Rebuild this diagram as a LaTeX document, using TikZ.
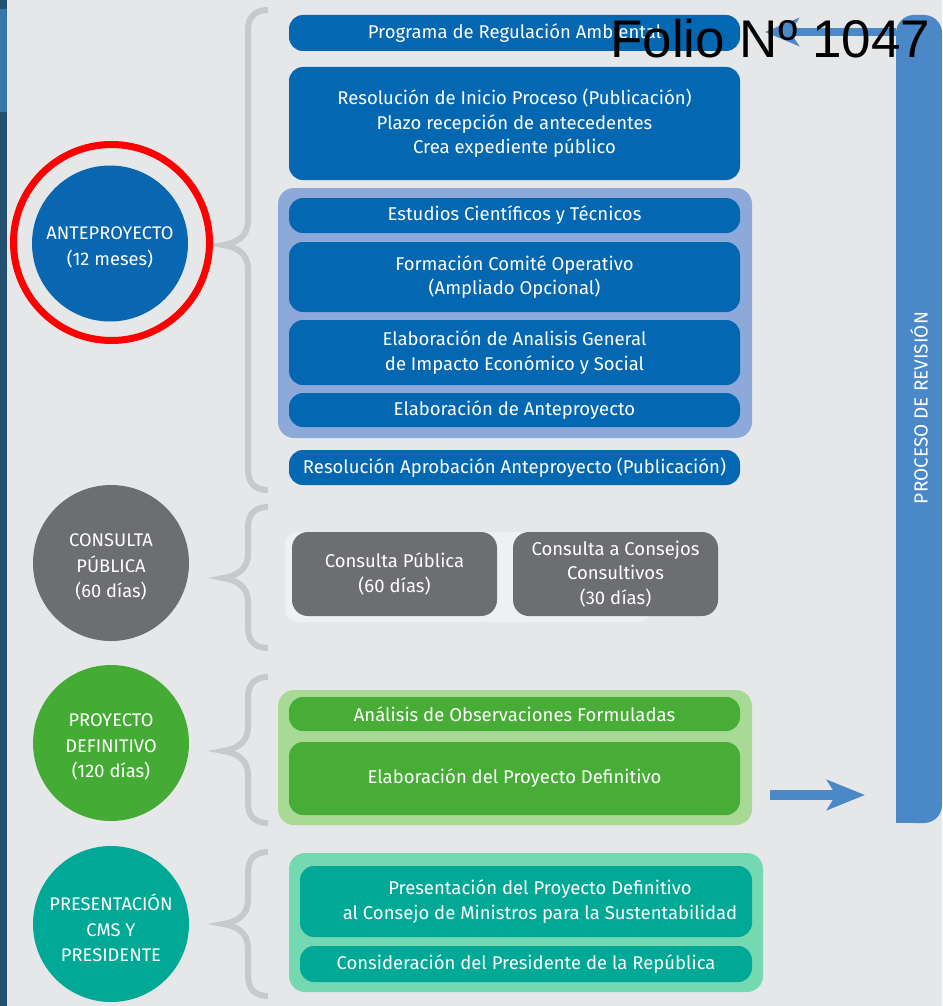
\documentclass[tikz,border=0pt]{standalone}
\usepackage{fontspec}
\setmainfont{Fira Sans}
\newfontfamily\arialf{Liberation Sans}
\usetikzlibrary{arrows.meta}
\definecolor{bgc}{HTML}{E6E7E9}
\definecolor{stripdark}{HTML}{244F6F}
\definecolor{striplight}{HTML}{3776A8}
\definecolor{barc}{HTML}{4A88C7}
\definecolor{bluebox}{HTML}{0467B2}
\definecolor{bluecirc}{HTML}{0967B1}
\definecolor{blueframe}{HTML}{8CA9D9}
\definecolor{grayc}{HTML}{6D6E72}
\definecolor{graypanel}{HTML}{EEF1F4}
\definecolor{greenbox}{HTML}{47AD36}
\definecolor{greencirc}{HTML}{44AC34}
\definecolor{greenframe}{HTML}{A8DA95}
\definecolor{tealc}{HTML}{00A996}
\definecolor{tealframe}{HTML}{74D8B3}
\definecolor{bracec}{HTML}{C8C9CB}
\begin{document}
\begin{tikzpicture}[x=1pt,y=-1pt,
  boxtxt/.style={text=white, align=center, inner sep=0pt,
    font=\fontsize{18.5}{24.5}\selectfont},
  stepbox/.style={boxtxt, rounded corners=14pt, minimum width=451pt},
  bbox/.style={stepbox, fill=bluebox},
  gbox/.style={stepbox, fill=greenbox},
  tbox/.style={stepbox, fill=tealc, minimum width=452pt},
  graybox/.style={boxtxt, fill=grayc, rounded corners=16pt, minimum width=205pt, minimum height=84pt},
  frame/.style={rounded corners=16pt, minimum width=474pt, inner sep=0pt},
  phase/.style={circle, minimum size=156pt, inner sep=0pt},
  phasetxt/.style={text=white, align=center, inner sep=0pt, yshift=-4pt,
    font=\fontsize{18.3}{25.5}\selectfont},
  brace/.style={draw=bracec, line width=6pt},
  arr/.style={draw=barc}
]
\useasboundingbox (0,0) rectangle (942,1006);
\fill[bgc] (0,0) rectangle (942,1006);
\fill[stripdark] (0,0) rectangle (7,1006);
\fill[striplight] (0,9) rectangle (7,112);

% revision bar
\node[fill=barc, rounded corners=18pt, minimum width=46pt, minimum height=808pt, inner sep=0pt] (bar) at (919,419) {};
\fill[barc] (bar.south west) rectangle ++(20,-20);
\node[rotate=90, text=white, font=\fontsize{19}{22}\selectfont] (rev) at (919,408) {PROCESO DE REVISIÓN};

% braces
\newcommand{\bracepath}[3]{%
  \draw[brace] (268,#1) .. controls (256,#1) and (248,#1+6) .. (248,#1+20)
    -- (248,#2-24) .. controls (248,#2-8) and (236,#2-2) .. (223,#2)
    .. controls (236,#2+2) and (248,#2+8) .. (248,#2+24)
    -- (248,#3-20) .. controls (248,#3-6) and (256,#3) .. (268,#3);}
\bracepath{10}{245}{490}
\bracepath{507}{578}{648}
\bracepath{677}{751}{823}
\bracepath{852}{924}{996}

% phase circles
\node[phase, fill=bluecirc] (c1) at (110,243.5) {};
\node[phasetxt] (t1) at (c1) {ANTEPROYECTO\\(12 meses)};
\node[circle, draw=red, line width=7pt, minimum size=196pt, inner sep=0pt] (ring) at (111.5,242.5) {};
\node[phase, fill=grayc] (c2) at (111,563) {};
\node[phasetxt] (t2) at (c2) {CONSULTA\\PÚBLICA\\(60 días)};
\node[phase, fill=greencirc] (c3) at (111,743) {};
\node[phasetxt] (t3) at (c3) {PROYECTO\\DEFINITIVO\\(120 días)};
\node[phase, fill=tealc] (c4) at (111,924) {};
\node[phasetxt] (t4) at (c4) {PRESENTACIÓN\\CMS Y\\PRESIDENTE};

% anteproyecto boxes
\node[bbox, minimum height=36pt] (bA) at (514.5,33) {Programa de Regulación Ambiental};
\node[bbox, minimum height=113pt] (bB) at (514.5,123.5) {Resolución de Inicio Proceso (Publicación)\\Plazo recepción de antecedentes\\Crea expediente público};
\node[frame, fill=blueframe, minimum height=250pt] (fA) at (515,313) {};
\node[bbox, minimum height=35pt] (bC) at (514.5,215.5) {Estudios Científicos y Técnicos};
\node[bbox, minimum height=70pt] (bD) at (514.5,277) {Formación Comité Operativo\\(Ampliado Opcional)};
\node[bbox, minimum height=65pt] (bE) at (514.5,352.5) {Elaboración de Analisis General\\de Impacto Económico y Social};
\node[bbox, minimum height=34pt] (bF) at (514.5,410) {Elaboración de Anteproyecto};
\node[bbox, minimum height=35pt] (bG) at (514.5,467.5) {Resolución Aprobación Anteproyecto (Publicación)};

% consulta boxes
\node[fill=graypanel, rounded corners=12pt, minimum width=365pt, minimum height=90pt, inner sep=0pt] (gp) at (467.5,577) {};
\node[graybox] (g1) at (394.5,574) {Consulta Pública\\(60 días)};
\node[graybox] (g2) at (615.5,574) {Consulta a Consejos\\Consultivos\\(30 días)};

% proyecto definitivo
\node[frame, fill=greenframe, minimum height=135pt] (fG) at (515,757.5) {};
\node[gbox, minimum height=34pt] (bH) at (514.5,714) {Análisis de Observaciones Formuladas};
\node[gbox, minimum height=73pt] (bI) at (514.5,778.5) {Elaboración del Proyecto Definitivo};

% presentacion
\node[frame, fill=tealframe, minimum height=139pt] (fT) at (526,922.5) {};
\node[tbox, minimum height=71pt] (bJ) at (526,901.5) {\hspace*{28pt}Presentación del Proyecto Definitivo\\\hspace*{28pt}al Consejo de Ministros para la Sustentabilidad};
\node[tbox, minimum height=36pt] (bK) at (526,964) {Consideración del Presidente de la República};

% arrows
\coordinate (tipA) at (765,32);
\draw[arr, line width=8pt, -{Stealth[length=34pt,width=28pt,inset=9pt]}] (bar.west |- tipA) -- (tipA);
\coordinate (startB) at (770,795);
\coordinate (tipB) at (865,795);
\draw[arr, line width=10pt, -{Stealth[length=38pt,width=30pt,inset=9pt]}] (startB) -- (tipB);

% folio stamp
\node[anchor=base west, inner sep=0pt, font=\arialf\fontsize{53}{60}\selectfont] (folio) at (610,58) {Folio Nº 1047};
\end{tikzpicture}
\end{document}
